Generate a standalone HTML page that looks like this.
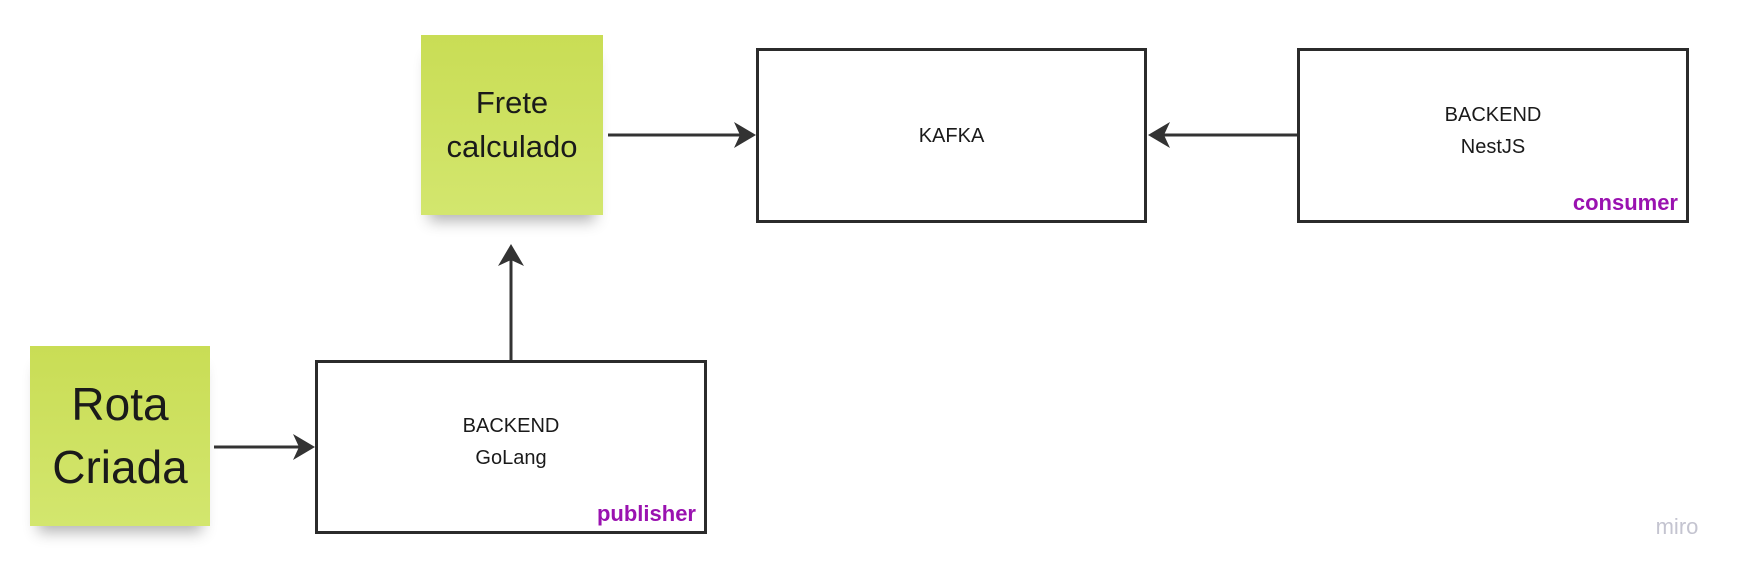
<!DOCTYPE html>
<html><head><meta charset="utf-8"><style>
html,body{margin:0;padding:0;background:#fff;}
body{width:1739px;height:574px;position:relative;overflow:hidden;font-family:"Liberation Sans",sans-serif;color:#1a1a1a;}
.st{position:absolute;background:linear-gradient(180deg,#c9dd55 0%,#d3e66e 100%);display:flex;align-items:center;justify-content:center;text-align:center;box-shadow:0 14px 14px -8px rgba(0,0,0,0.3);}
.box{position:absolute;border:3px solid #2b2b2b;box-sizing:border-box;background:#fff;display:flex;align-items:center;justify-content:center;text-align:center;font-size:20px;line-height:32px;}
.tag{position:absolute;right:8px;bottom:4px;color:#9a12b0;font-weight:bold;font-size:22px;line-height:26px;}
</style></head><body>
<div class="st" style="left:421px;top:35px;width:182px;height:180px;font-size:31px;line-height:44px;">Frete<br>calculado</div>
<div class="st" style="left:30px;top:346px;width:180px;height:180px;font-size:46px;line-height:63px;">Rota<br>Criada</div>
<div class="box" style="left:756px;top:48px;width:391px;height:175px;">KAFKA</div>
<div class="box" style="left:1297px;top:48px;width:392px;height:175px;"><div style="margin-top:-10px">BACKEND<br>NestJS</div><span class="tag">consumer</span></div>
<div class="box" style="left:315px;top:360px;width:392px;height:174px;"><div style="margin-top:-10px">BACKEND<br>GoLang</div><span class="tag">publisher</span></div>
<svg width="1739" height="574" style="position:absolute;left:0;top:0">
<g stroke="#333" stroke-width="3" fill="#333">
<line x1="608" y1="135" x2="748" y2="135"/>
<path d="M756 135 L734 122 L740 135 L734 148 Z" stroke="none"/>
<line x1="1297" y1="135" x2="1155" y2="135"/>
<path d="M1148 135 L1170 122 L1164 135 L1170 148 Z" stroke="none"/>
<line x1="511" y1="360" x2="511" y2="252"/>
<path d="M511 244 L498 266 L511 260 L524 266 Z" stroke="none"/>
<line x1="214" y1="447" x2="308" y2="447"/>
<path d="M315 447 L293 434 L299 447 L293 460 Z" stroke="none"/>
</g>
<text x="1677" y="534" font-family="Liberation Sans,sans-serif" font-size="22" fill="#c4c4d0" text-anchor="middle">miro</text>
</svg>
</body></html>
